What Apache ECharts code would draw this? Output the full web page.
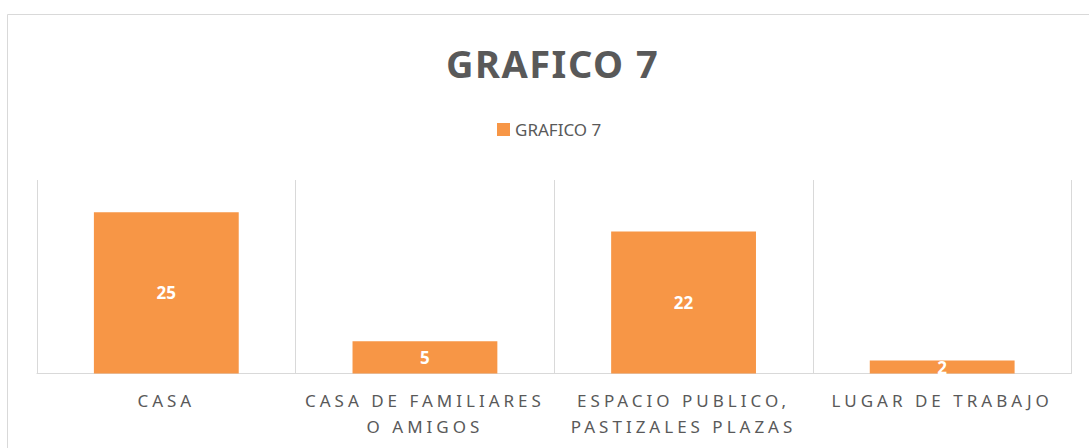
<!DOCTYPE html>
<html>
<head>
<meta charset="utf-8">
<script src="https://cdn.jsdelivr.net/npm/echarts@6/dist/echarts.min.js"></script>
<style>
  html, body { margin: 0; padding: 0; background: #ffffff; }
  #chart { width: 1089px; height: 448px; }
</style>
</head>
<body>
<div id="chart"></div>
<script>
// data
var chartTitle = "GRAFICO 7";
var seriesName = "GRAFICO 7";
var categories = [
	"CASA",
	"CASA DE FAMILIARES\nO AMIGOS",
	"ESPACIO PUBLICO,\nPASTIZALES PLAZAS",
	"LUGAR DE TRABAJO"
];
var values = [25, 5, 22, 2];

var chart = echarts.init(document.getElementById("chart"), null, { renderer: "svg" });

var textColor = "#595959";
var lineColor = "#d9d9d9";
var barColor = "#f79646";
var fontName = "'Noto Sans', sans-serif";

var option = {
	animation: false,
	title: {
		text: chartTitle,
		left: 441,
		top: 37,
		textStyle: {
			fontFamily: fontName,
			fontSize: 38,
			fontWeight: "bold",
			color: textColor,
			lineHeight: 42
		}
	},
	legend: {
		data: [seriesName],
		left: 492,
		top: 116,
		itemWidth: 13,
		itemHeight: 13,
		icon: "rect",
		textStyle: {
			fontFamily: fontName,
			fontSize: 17,
			color: textColor
		}
	},
	grid: {
		left: 37,
		right: 17.5,
		top: 180,
		bottom: 74.5,
		containLabel: false
	},
	xAxis: {
		type: "category",
		data: categories,
		axisLine: { show: true, lineStyle: { color: lineColor, width: 1 } },
		axisTick: { show: false },
		splitLine: { show: true, lineStyle: { color: lineColor, width: 1 } },
		axisLabel: {
			interval: 0,
			margin: 14,
			fontFamily: fontName,
			fontSize: 17,
			lineHeight: 26,
			color: textColor
		}
	},
	yAxis: {
		type: "value",
		min: 0,
		max: 30,
		show: false,
		splitLine: { show: false }
	},
	// outer chart frame
	graphic: [
		{
			type: "rect",
			silent: true,
			shape: { x: 7.5, y: 14.5, width: 1100, height: 460 },
			style: { fill: "none", stroke: lineColor, lineWidth: 1 }
		}
	],
	series: [
		{
			name: seriesName,
			type: "bar",
			data: values,
			barCategoryGap: "44%",
			itemStyle: { color: barColor },
			label: {
				show: true,
				position: "inside",
				fontFamily: fontName,
				fontSize: 17,
				fontWeight: "bold",
				color: "#ffffff"
			}
		}
	]
};

// spread out letters like the original (svg text only)
function spaceLetters() {
	var texts = document.querySelectorAll("#chart svg text");
	texts.forEach(function (t) {
		var s = t.textContent.trim();
		if (/^\d+$/.test(s)) return;
		var bold = parseInt(getComputedStyle(t).fontWeight, 10) >= 600 ||
			(t.getAttribute("style") || "").indexOf("bold") >= 0;
		if (s === chartTitle) {
			t.style.letterSpacing = bold ? "1.5px" : "0px";
		} else {
			t.style.letterSpacing = "4px";
		}
	});
}

chart.on("finished", spaceLetters);
chart.setOption(option);
spaceLetters();
</script>
</body>
</html>
